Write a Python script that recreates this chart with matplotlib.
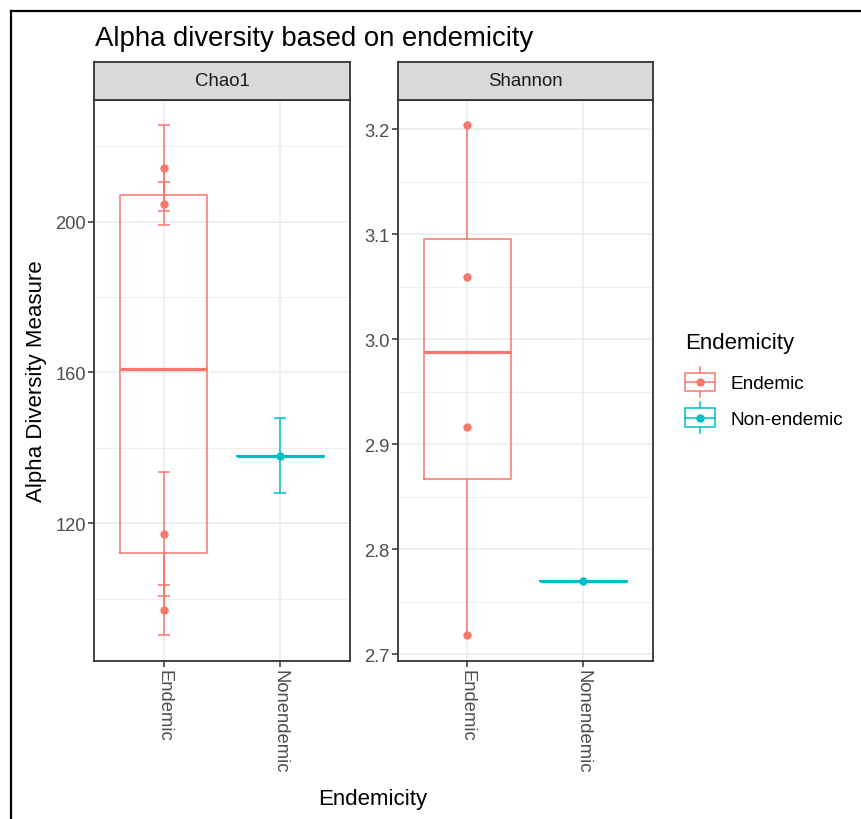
import numpy as np
import matplotlib
matplotlib.use("Agg")
import matplotlib.pyplot as plt
from matplotlib.ticker import MultipleLocator
from matplotlib.legend_handler import HandlerBase
from matplotlib.patches import Rectangle
from matplotlib.lines import Line2D

plt.rcParams['font.family'] = ['Liberation Sans', 'DejaVu Sans']

# data
categories = ["Endemic", "Nonendemic"]
groups = ["Endemic", "Non-endemic"]
colors = ["#F8766D", "#00BFC4"]

chao1_endemic = [214.2, 204.7, 117.1, 97.0]
chao1_endemic_se = [11.4, 5.7, 16.5, 6.7]
chao1_nonendemic = [137.9]
chao1_nonendemic_se = [10.0]

shannon_endemic = [3.204, 3.059, 2.916, 2.718]
shannon_nonendemic = [2.770]

panels = [
    ("Chao1", [chao1_endemic, chao1_nonendemic], [chao1_endemic_se, chao1_nonendemic_se], 40, 20),
    ("Shannon", [shannon_endemic, shannon_nonendemic], [None, None], 0.1, 0.05),
]

W, H = 862, 820
fig = plt.figure(figsize=(W / 100, H / 100), dpi=100)


def px(x0, y0, x1, y1):
    # pixel box (from top-left) -> figure fraction rect
    return [x0 / W, 1 - y1 / H, (x1 - x0) / W, (y1 - y0) / H]


panel_x = [(94, 350), (397.7, 652.7)]
strip_top, top, bot = 63.3, 100.7, 661.7
lw = 1.1

for (name, vals, ses, major, minor), (x0, x1) in zip(panels, panel_x):
    ax = fig.add_axes(px(x0, top, x1, bot))
    sax = fig.add_axes(px(x0, strip_top, x1, top))

    lo, hi = np.inf, -np.inf
    for i, (v, se, c) in enumerate(zip(vals, ses, colors)):
        pos = i + 1
        v = np.array(v)
        ax.boxplot(v, positions=[pos], widths=0.75, showcaps=False, showfliers=False,
                   manage_ticks=False,
                   boxprops=dict(color=c, lw=lw),
                   whiskerprops=dict(color=c, lw=lw),
                   medianprops=dict(color=c, lw=2.3))
        if se is not None:
            se = np.array(se)
            ax.errorbar(np.full(len(v), pos), v, yerr=se, fmt='none', ecolor=c,
                        elinewidth=lw, capsize=4.4, capthick=lw, zorder=4)
            lo, hi = min(lo, (v - se).min()), max(hi, (v + se).max())
        else:
            lo, hi = min(lo, v.min()), max(hi, v.max())
        ax.scatter(np.full(len(v), pos), v, s=36, color=c, zorder=5, linewidths=0)

    pad = 0.05 * (hi - lo)
    ax.set_ylim(lo - pad, hi + pad)
    ax.set_xlim(0.4, 2.6)
    ax.yaxis.set_major_locator(MultipleLocator(major))
    ax.yaxis.set_minor_locator(MultipleLocator(minor))
    ax.set_xticks([1, 2])
    ax.set_xticklabels(categories, rotation=-90, va='top', ha='center')
    if major < 1:
        ax.yaxis.set_major_formatter(matplotlib.ticker.FormatStrFormatter('%.1f'))

    ax.set_axisbelow(True)
    ax.grid(which='major', color='#EBEBEB', lw=1.1)
    ax.grid(which='minor', axis='y', color='#EBEBEB', lw=0.6)
    ax.tick_params(which='major', length=4, width=1.1, color='#333333',
                   labelsize=13.2, labelcolor='#4D4D4D', pad=2)
    ax.tick_params(which='minor', length=0)
    for s in ax.spines.values():
        s.set_color('#333333')
        s.set_linewidth(1.3)

    sax.set_facecolor('#D9D9D9')
    sax.set_xticks([])
    sax.set_yticks([])
    for s in sax.spines.values():
        s.set_color('#333333')
        s.set_linewidth(1.3)
    sax.text(0.5, 0.5, name, ha='center', va='center', fontsize=13.4,
             color='#1A1A1A', transform=sax.transAxes)


class BoxKey(HandlerBase):
    def create_artists(self, legend, orig_handle, xdescent, ydescent,
                       width, height, fontsize, trans):
        c = orig_handle.get_color()
        x0, y0 = -xdescent, -ydescent
        cx, cy = x0 + width / 2, y0 + height / 2
        bh = height * 0.6
        wl = Line2D([cx, cx], [y0, y0 + height], color=c, lw=lw, transform=trans)
        box = Rectangle((x0, cy - bh / 2), width, bh, facecolor='white',
                        edgecolor=c, lw=lw, transform=trans)
        med = Line2D([x0, x0 + width], [cy, cy], color=c, lw=lw, transform=trans)
        dot = Line2D([cx], [cy], marker='o', ms=6, color=c, ls='none',
                     markeredgewidth=0, transform=trans)
        return [wl, box, med, dot]


handles = [Line2D([], [], color=c) for c in colors]
leg = fig.legend(handles, groups, handler_map={Line2D: BoxKey()}, loc='upper left',
                 bbox_to_anchor=(685 / W, 1 - 333 / H), frameon=False,
                 title='Endemicity', title_fontsize=16, fontsize=13.7,
                 handlelength=1.6, handleheight=2.08, labelspacing=0.27,
                 handletextpad=0.8, alignment='left', borderaxespad=0, borderpad=0)
leg._legend_box.sep = 10  # gap between legend title and keys

fig.text(95 / W, 1 - 39 / H, "Alpha diversity based on endemicity",
         fontsize=19.8, va='center', ha='left')
fig.text(37 / W, 1 - 381 / H, "Alpha Diversity Measure", fontsize=16,
         rotation=90, va='center', ha='center')
fig.text(373 / W, 1 - 800 / H, "Endemicity", fontsize=16, va='center', ha='center')

# screenshot frame (left and top edges)
fig.add_artist(Line2D([11 / W, 11 / W], [0, 1 - 12 / H], color='black', lw=1.6,
                      transform=fig.transFigure))
fig.add_artist(Line2D([11 / W, 1], [1 - 12 / H, 1 - 12 / H], color='black', lw=1.6,
                      transform=fig.transFigure))

fig.savefig("out.png", dpi=100, facecolor='white')
